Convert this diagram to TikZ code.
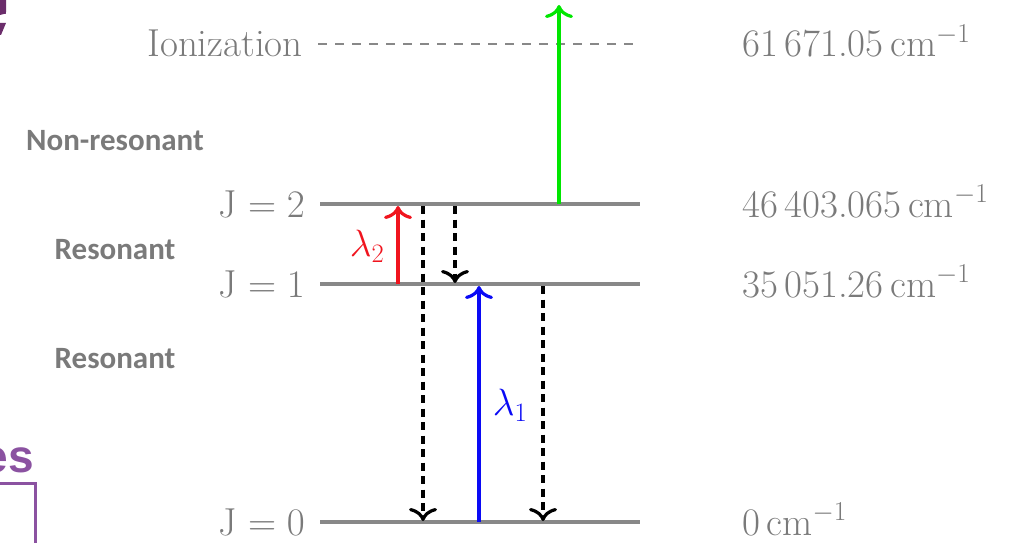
\documentclass[tikz,border=0pt]{standalone}
\usepackage{fix-cm}
\usepackage{fontspec}
\setmainfont{Latin Modern Roman}
\newfontfamily\calibfont{Carlito}
\newfontfamily\arialfont{Liberation Sans}
\usetikzlibrary{arrows.meta}
\definecolor{lgray}{HTML}{888888}
\definecolor{tgray}{HTML}{7A7A7A}
\definecolor{purp}{HTML}{8B52A1}
\definecolor{pdark}{HTML}{6B2D6B}
\definecolor{gr}{HTML}{00E600}
\definecolor{rd}{HTML}{F0141E}
\definecolor{bl}{HTML}{0A0AF5}
\begin{document}
\begin{tikzpicture}[x=1pt,y=-1pt,
  lvl/.style={draw=lgray,line width=3.2pt},
  lbl/.style={text=tgray,font=\fontsize{39}{42}\selectfont,inner sep=0pt},
  cat/.style={text=tgray,font=\calibfont\bfseries\fontsize{31}{34}\selectfont,inner sep=0pt},
  tipx/.tip={Computer Modern Rightarrow[length=13pt,width=28pt,line width=3.2pt]},
  uparrow/.style={line width=3.3pt,-tipx},
  decay/.style={line width=3.8pt,dash pattern=on 8pt off 5.5pt,-tipx}]
\useasboundingbox (0,0) rectangle (1020,543);
% levels
\coordinate (i0) at (318,44); \coordinate (i1) at (640,44);
\coordinate (a0) at (320,204); \coordinate (a1) at (640,204);
\coordinate (b0) at (320,284); \coordinate (b1) at (640,284);
\coordinate (c0) at (320,522); \coordinate (c1) at (640,522);
\draw[lvl,line width=2.8pt,dash pattern=on 9pt off 8pt] (i0) -- (i1);
\draw[lvl] (a0) -- (a1);
\draw[lvl] (b0) -- (b1);
\draw[lvl] (c0) -- (c1);
% left labels
\node[lbl,anchor=base east] (ion) at (303,57) {Ionization};
\node[lbl,anchor=base east] (j2) at (305,217) {$\mathrm{J}=2$};
\node[lbl,anchor=base east] (j1) at (305,297) {$\mathrm{J}=1$};
\node[lbl,anchor=base east] (j0) at (305,535) {$\mathrm{J}=0$};
% right labels
\node[lbl,anchor=base west] (ei) at (742,57) {61\,671.05\,cm$^{-1}$};
\node[lbl,anchor=base west] (e2) at (742,217) {46\,403.065\,cm$^{-1}$};
\node[lbl,anchor=base west] (e1) at (742,297) {35\,051.26\,cm$^{-1}$};
\node[lbl,anchor=base west] (e0) at (742,535) {0\,cm$^{-1}$};
% category labels
\node[cat] (nr) at (115,141) {Non-resonant};
\node[cat] (rs1) at (115,250) {Resonant};
\node[cat] (rs2) at (115,359) {Resonant};
% transitions
\coordinate (g0) at (559,204); \coordinate (g1) at (559,5);
\draw[uparrow,draw=gr] (g0) -- (g1);
\coordinate (r0) at (398,284); \coordinate (r1) at (398,206);
\draw[uparrow,draw=rd] (r0) -- (r1);
\node[text=rd,font=\fontsize{38}{40}\selectfont,inner sep=0pt] (l2) at (367,246) {$\lambda_2$};
\coordinate (u0) at (479,522); \coordinate (u1) at (479,286);
\draw[uparrow,draw=bl] (u0) -- (u1);
\node[text=bl,font=\fontsize{38}{40}\selectfont,inner sep=0pt] (l1) at (510,405) {$\lambda_1$};
\coordinate (d1a) at (423,206); \coordinate (d1b) at (423,521);
\coordinate (d2a) at (455,206); \coordinate (d2b) at (455,283);
\coordinate (d3a) at (543,286); \coordinate (d3b) at (543,521);
\draw[decay] (d1a) -- (d1b);
\draw[decay] (d2a) -- (d2b);
\draw[decay] (d3a) -- (d3b);
% purple fragments
\fill[pdark] (0,0) -- (6,0) -- (6,12) .. controls (6,14) .. (4,14) -- (0,15) -- cycle;
\fill[pdark] (0,23) -- (6,23) -- (1,35) -- (0,35) -- cycle;
\node[anchor=base east,text=purp,font=\arialfont\bfseries\fontsize{46}{50}\selectfont,inner sep=0pt] (es) at (34,472) {es};
\coordinate (bx0) at (0,483); \coordinate (bx1) at (35,483); \coordinate (bx2) at (35,545);
\draw[purp,line width=3pt] (bx0) -- (bx1) -- (bx2);
\end{tikzpicture}
\end{document}
